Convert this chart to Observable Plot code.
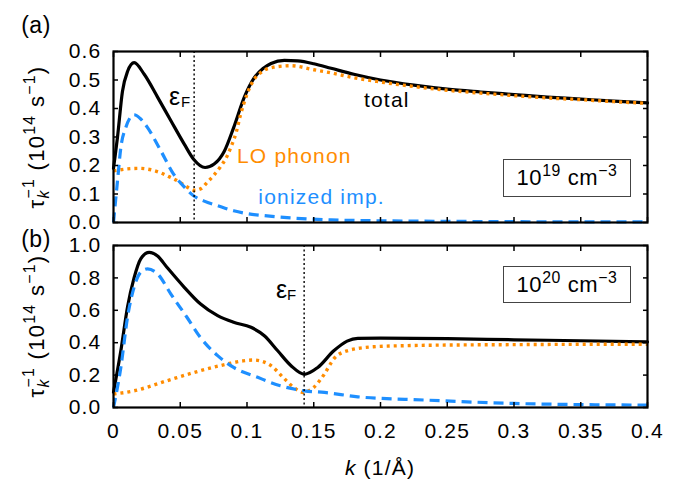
<!DOCTYPE html>
<html><head><meta charset="utf-8">
<script src="https://cdn.jsdelivr.net/npm/d3@7"></script>
<script src="https://cdn.jsdelivr.net/npm/@observablehq/plot@0.6"></script>
<style>
body{margin:0;background:#fff;}
#wrap{position:relative;width:684px;height:479px;font-family:"Liberation Sans",Arial,Helvetica,sans-serif;color:#000;overflow:hidden;background:#fff}
.panel{position:absolute;left:0}
.ov{position:absolute;white-space:nowrap;font-size:21px;letter-spacing:1.2px;line-height:1;transform:translate(-50%,-50%)}
.rot{transform:translate(-50%,-50%) rotate(-90deg);font-size:22px;letter-spacing:1.3px}
.sup{font-size:0.72em;position:relative;top:-0.55em}
.stk{display:inline-block;vertical-align:-0.32em;font-size:0.72em;line-height:0.95;text-align:left}
.stk span{display:block}
.box{position:absolute;border:1px solid #444;background:#fff;box-sizing:border-box;display:flex;align-items:center;justify-content:center;font-size:22px;letter-spacing:0.6px;white-space:nowrap}
</style></head>
<body>
<div id="wrap">
  <div id="top" class="panel" style="top:0"></div>
  <div id="bot" class="panel" style="top:230px"></div>
</div>
<script>
// ---- axis ticks ----
const xTicks = [0, 0.05, 0.1, 0.15, 0.2, 0.25, 0.3, 0.35, 0.4];
const yTicksA = [0, 0.1, 0.2, 0.3, 0.4, 0.5, 0.6];
const yTicksB = [0, 0.2, 0.4, 0.6, 0.8, 1.0];

// ---- panel (a): 10^19 cm^-3 ----
const kTotA = [0, 0.003, 0.0067, 0.0105, 0.0155, 0.023, 0.033, 0.043, 0.053, 0.060, 0.0686, 0.0754, 0.083, 0.090, 0.098, 0.105, 0.112, 0.118, 0.128, 0.138, 0.15, 0.163, 0.18, 0.2, 0.225, 0.25, 0.275, 0.3, 0.325, 0.35, 0.375, 0.4];
const vTotA = [0.19, 0.30, 0.46, 0.53, 0.561, 0.52, 0.44, 0.357, 0.275, 0.222, 0.193, 0.205, 0.25, 0.333, 0.44, 0.505, 0.54, 0.558, 0.569, 0.567, 0.557, 0.541, 0.52, 0.50, 0.482, 0.468, 0.458, 0.449, 0.440, 0.433, 0.426, 0.42];
const kLOA = [0, 0.01, 0.019, 0.028, 0.035, 0.042, 0.048, 0.055, 0.061, 0.066, 0.070, 0.075, 0.080, 0.085, 0.088, 0.092, 0.095, 0.100, 0.105, 0.110, 0.120, 0.133, 0.150, 0.163, 0.18, 0.2, 0.225, 0.25, 0.275, 0.3, 0.325, 0.35, 0.375, 0.4];
const vLOA = [0.181, 0.188, 0.19, 0.185, 0.175, 0.16, 0.146, 0.125, 0.113, 0.12, 0.14, 0.165, 0.195, 0.232, 0.265, 0.318, 0.375, 0.45, 0.5, 0.525, 0.545, 0.55, 0.536, 0.525, 0.508, 0.493, 0.477, 0.464, 0.454, 0.445, 0.437, 0.431, 0.424, 0.418];
const kImpA = [0, 0.003, 0.0055, 0.0092, 0.0154, 0.02, 0.0255, 0.0354, 0.045, 0.053, 0.060, 0.068, 0.078, 0.090, 0.1, 0.113, 0.13, 0.163, 0.2, 0.25, 0.3, 0.35, 0.4];
const vImpA = [0, 0.146, 0.263, 0.333, 0.378, 0.365, 0.333, 0.252, 0.17, 0.125, 0.094, 0.075, 0.059, 0.041, 0.031, 0.024, 0.017, 0.009, 0.006, 0.004, 0.003, 0.002, 0.002];
const eFA = 0.0604;

// ---- panel (b): 10^20 cm^-3 ----
const kTotB = [0, 0.0055, 0.0105, 0.0154, 0.0204, 0.0267, 0.033, 0.040, 0.053, 0.065, 0.078, 0.090, 0.103, 0.113, 0.123, 0.133, 0.143, 0.153, 0.165, 0.175, 0.183, 0.2, 0.25, 0.3, 0.35, 0.4];
const vTotB = [0.095, 0.35, 0.62, 0.80, 0.918, 0.958, 0.935, 0.866, 0.742, 0.64, 0.567, 0.526, 0.495, 0.443, 0.35, 0.258, 0.205, 0.247, 0.35, 0.41, 0.427, 0.428, 0.425, 0.418, 0.412, 0.405];
const kLOB = [0, 0.0154, 0.040, 0.065, 0.085, 0.097, 0.105, 0.112, 0.118, 0.127, 0.135, 0.142, 0.150, 0.158, 0.165, 0.175, 0.195, 0.22, 0.258, 0.3, 0.35, 0.4];
const vLOB = [0.083, 0.103, 0.165, 0.227, 0.268, 0.288, 0.293, 0.283, 0.258, 0.186, 0.124, 0.093, 0.124, 0.207, 0.30, 0.35, 0.375, 0.382, 0.386, 0.388, 0.39, 0.39];
const kImpB = [0, 0.0055, 0.0105, 0.0154, 0.0204, 0.0255, 0.033, 0.043, 0.055, 0.065, 0.078, 0.090, 0.108, 0.125, 0.143, 0.158, 0.183, 0.233, 0.3, 0.35, 0.4];
const vImpB = [0, 0.247, 0.557, 0.742, 0.835, 0.856, 0.825, 0.70, 0.557, 0.433, 0.32, 0.247, 0.186, 0.134, 0.103, 0.093, 0.066, 0.046, 0.025, 0.018, 0.015];
const eFB = 0.1428;

// ---- in-plot labels (panel a) ----
const labelsA = [
  {k: 0.2047, v: 0.43, t: "total", c: "#000000", a: "middle"},
  {k: 0.0925, v: 0.232, t: "LO phonon", c: "#ff8c00", a: "start"},
  {k: 0.1085, v: 0.088, t: "ionized imp.", c: "#1e8fff", a: "start"}
];

const BLACK = "#000000", ORANGE = "#ff8c00", BLUE = "#1e8fff";
const TS = 5;
const zip = (ks, vs) => ks.map((k, i) => ({k, v: vs[i]}));

function panel({height, mt, mb, yDomain, yTicks, tot, lo, imp, eF, eps, showX, labels}) {
  const marks = [
    Plot.line(zip(...tot), {x: "k", y: "v", stroke: BLACK, strokeWidth: 3.2, curve: "monotone-x"}),
    Plot.line(zip(...lo), {x: "k", y: "v", stroke: ORANGE, strokeWidth: 3.4, strokeDasharray: "3,4", strokeLinecap: "butt", curve: "monotone-x"}),
    Plot.line(zip(...imp), {x: "k", y: "v", stroke: BLUE, strokeWidth: 3.2, strokeDasharray: "10,6", strokeLinecap: "butt", curve: "monotone-x"}),
    Plot.ruleX([eF], {x: d => d, stroke: BLACK, strokeWidth: 1.4, strokeDasharray: "2,2.5"}),
    Plot.text([eF], {x: d => d, frameAnchor: "top", dx: eps.dx, dy: eps.dy, text: () => "ε", fontSize: 25, letterSpacing: 0}),
    Plot.text([eF], {x: d => d, frameAnchor: "top", dx: eps.fdx, dy: eps.fdy, text: () => "F", fontSize: 15, letterSpacing: 0}),
    Plot.frame({stroke: BLACK, strokeWidth: 2.2}),
    Plot.axisY({anchor: "left", ticks: yTicks, tickSize: TS, dx: TS, tickPadding: 12, tickFormat: d3.format(".1f"), strokeWidth: 1.5, label: null}),
    Plot.axisY({anchor: "right", ticks: yTicks, tickSize: TS, dx: -TS, tickFormat: () => "", strokeWidth: 1.5, label: null}),
    Plot.axisX({anchor: "top", ticks: xTicks, tickSize: TS, dy: TS, tickFormat: () => "", strokeWidth: 1.5, label: null}),
    Plot.axisX({anchor: "bottom", ticks: xTicks, tickSize: TS, dy: -TS, tickPadding: 16, tickFormat: showX ? (d => String(d)) : (() => ""), strokeWidth: 1.5, label: null})
  ];
  for (const l of labels) {
    marks.push(Plot.text([l], {x: "k", y: "v", text: "t", fill: l.c, textAnchor: l.a, fontSize: 21}));
  }
  return Plot.plot({
    width: 684, height,
    marginLeft: 113, marginRight: 37, marginTop: mt, marginBottom: mb,
    x: {domain: [0, 0.4]},
    y: {domain: yDomain},
    style: {fontSize: "21px", fontFamily: "'Liberation Sans', Arial, Helvetica, sans-serif", letterSpacing: "1.2px", color: "#000", background: "#fff", overflow: "visible"},
    marks
  });
}

document.getElementById("top").append(panel({
  height: 230, mt: 51, mb: 8, yDomain: [0, 0.6], yTicks: yTicksA,
  tot: [kTotA, vTotA], lo: [kLOA, vLOA], imp: [kImpA, vImpA], eF: eFA,
  eps: {dx: -19, dy: 36, fdx: -8, fdy: 45}, showX: false, labels: labelsA
}));
document.getElementById("bot").append(panel({
  height: 249, mt: 15, mb: 72, yDomain: [0, 1.0], yTicks: yTicksB,
  tot: [kTotB, vTotB], lo: [kLOB, vLOB], imp: [kImpB, vImpB], eF: eFB,
  eps: {dx: -22, dy: 35, fdx: -12, fdy: 44}, showX: true, labels: []
}));

// ---- titles, panel letters, concentration boxes ----
const wrap = document.getElementById("wrap");
function ov(html, x, y, cls = "", extra = "") {
  const d = document.createElement("div");
  d.className = "ov " + cls;
  d.style.left = x + "px"; d.style.top = y + "px";
  if (extra) d.style.cssText += extra;
  d.innerHTML = html;
  wrap.append(d);
}
const yTitle = 'τ<span class="stk"><span>−1</span><span><i>k</i></span></span> (10<span class="sup">14</span> s<span class="sup">−1</span>)';
ov("(a)", 36, 25, "", "font-size:23px;letter-spacing:0.5px");
ov("(b)", 36, 239, "", "font-size:23px;letter-spacing:0.5px");
ov(yTitle, 36, 137, "rot");
ov(yTitle, 36, 326, "rot");
ov('<i>k</i> (1/Å)', 380, 467);
function box(html, x, y, w, h) {
  const d = document.createElement("div");
  d.className = "box";
  d.style.left = x + "px"; d.style.top = y + "px"; d.style.width = w + "px"; d.style.height = h + "px";
  d.innerHTML = "<span>" + html + "</span>";
  wrap.append(d);
}
box('10<span class="sup">19</span> cm<span class="sup">−3</span>', 503, 159, 128, 38);
box('10<span class="sup">20</span> cm<span class="sup">−3</span>', 503, 266, 128, 37);
</script>
</body></html>
